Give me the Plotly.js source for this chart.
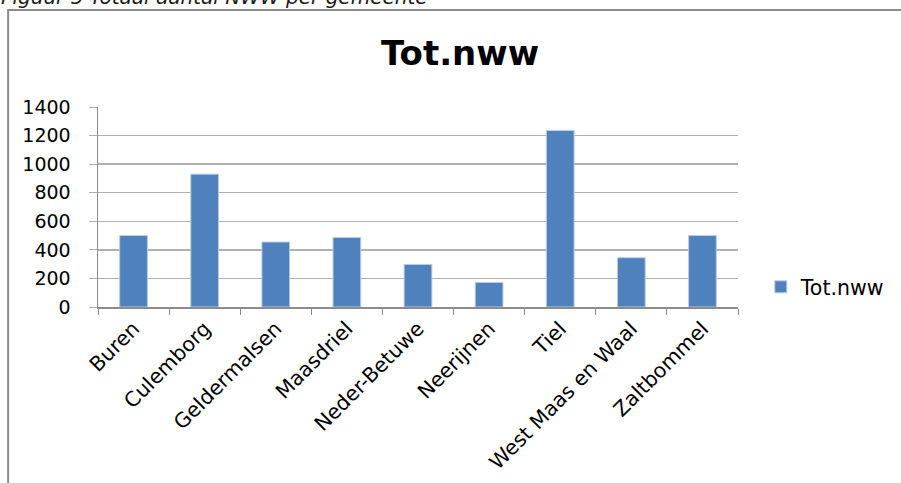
<!DOCTYPE html>
<html>
<head>
<meta charset="utf-8">
<script src="https://cdn.plot.ly/plotly-3.0.1.min.js"></script>
<style>html,body{margin:0;padding:0;background:#fff;}#chart{width:901px;height:483px;}</style>
</head>
<body>
<div id="chart"></div>
<script>
var categories = ["Buren", "Culemborg", "Geldermalsen", "Maasdriel", "Neder-Betuwe", "Neerijnen", "Tiel", "West Maas en Waal", "Zaltbommel"];
var values = [500, 930, 455, 487, 298, 172, 1235, 345, 500];
var seriesName = "Tot.nww";
var yTicks = [0, 200, 400, 600, 800, 1000, 1200, 1400];
var caption = "Figuur 5 Totaal aantal NWW per gemeente";

var font = "DejaVu Sans, sans-serif";

var trace = {
  type: "bar",
  x: categories,
  y: values,
  name: seriesName,
  marker: {color: "#4f81bd", line: {color: "#b9cde5", width: 1}},
  showlegend: true
};

var layout = {
  width: 901,
  height: 483,
  margin: {l: 98, r: 162, t: 107, b: 176},
  paper_bgcolor: "#ffffff",
  plot_bgcolor: "#ffffff",
  bargap: 0.61,
  font: {family: font, color: "#000000"},
  title: {
    text: "<b>Tot.nww</b>",
    font: {family: font, size: 34, color: "#000000"},
    xref: "container", x: 460 / 901, xanchor: "center",
    yref: "container", y: 1 - 53 / 483, yanchor: "middle"
  },
  xaxis: {
    type: "category",
    tickangle: -45,
    tickson: "boundaries",
    ticks: "outside",
    ticklen: 6,
    tickcolor: "#8c8c8c",
    showline: true,
    linecolor: "#8c8c8c",
    linewidth: 1.5,
    showgrid: false,
    tickfont: {family: font, size: 20.5, color: "#000000"},
    fixedrange: true
  },
  yaxis: {
    range: [0, 1400],
    tickvals: yTicks,
    ticktext: yTicks.map(String),
    ticks: "outside",
    ticklen: 8,
    tickcolor: "#b0b0b0",
    showline: true,
    linecolor: "#8c8c8c",
    linewidth: 1.5,
    showgrid: true,
    gridcolor: "#b0b0b0",
    gridwidth: 1.5,
    zeroline: false,
    ticklabelstandoff: 14,
    tickfont: {family: font, size: 19, color: "#000000"},
    fixedrange: true
  },
  legend: {
    x: 1.034, xanchor: "left",
    y: 0.1, yanchor: "middle",
    font: {family: font, size: 20.5, color: "#000000"},
    bgcolor: "rgba(0,0,0,0)",
    borderwidth: 0
  },
  shapes: [
    {type: "path", xref: "paper", yref: "paper",
     path: "M -0.1404,-1 L -0.1404,1.485 L 2,1.485",
     line: {color: "#8c8c8c", width: 2}}
  ],
  annotations: [
    {text: "<i>" + caption + "</i>", xref: "paper", yref: "paper",
     x: -0.155, xanchor: "left", y: 1.55, yanchor: "middle",
     showarrow: false, font: {family: font, size: 20, color: "#1a1a1a"}}
  ]
};

Plotly.newPlot("chart", [trace], layout, {displayModeBar: false, staticPlot: true});
</script>
</body>
</html>
